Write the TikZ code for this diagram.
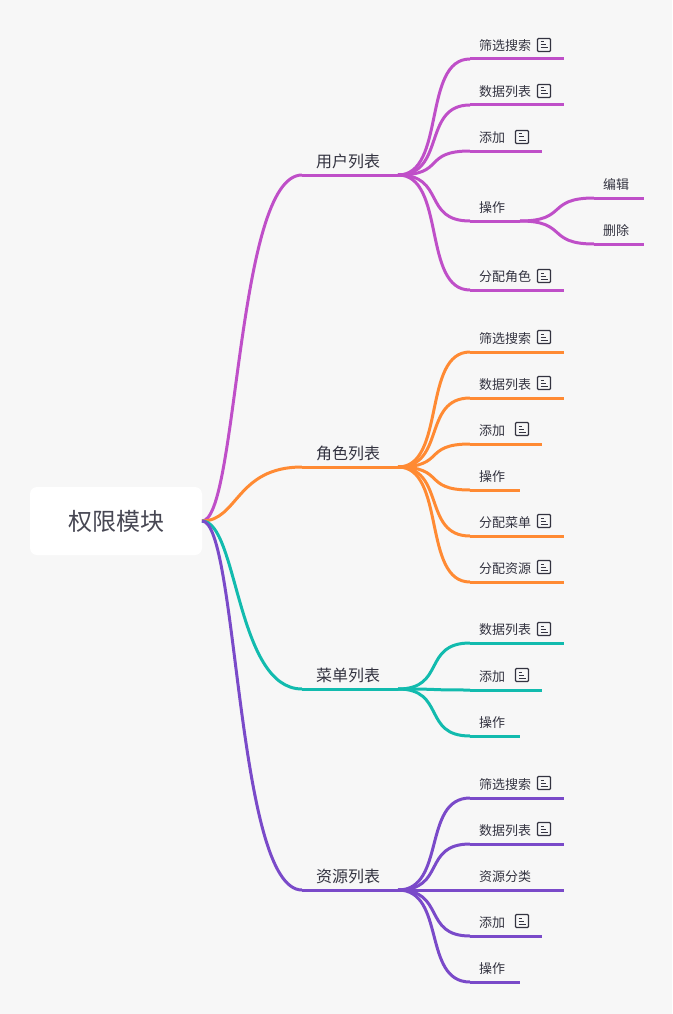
\documentclass[tikz,border=0pt]{standalone}
\usepackage{fontspec}
\setmainfont{Noto Sans CJK SC}
\definecolor{pagebg}{HTML}{F7F7F7}
\definecolor{inkc}{HTML}{333340}
\definecolor{userc}{HTML}{BF4FC8}
\definecolor{rolec}{HTML}{FF8A33}
\definecolor{menuc}{HTML}{12BBAE}
\definecolor{resc}{HTML}{7A4AC9}
\tikzset{
	rootbox/.style={fill=white,outer sep=0pt,rounded corners=7pt,minimum width=172pt,minimum height=68pt,text=inkc!90,font=\fontsize{24}{28}\selectfont},
	topic/.style={anchor=south west,outer sep=0pt,inner xsep=14pt,inner ysep=0pt,minimum height=27pt,text width=68pt,align=left,text=inkc,font=\fontsize{16}{18}\selectfont},
	leaf/.style={anchor=south west,outer sep=0pt,inner xsep=9pt,inner ysep=0pt,minimum height=27.5pt,text width=#1pt-18pt,align=left,text=inkc,font=\fontsize{13}{15}\selectfont},
	branch/.style={out=0,in=180,distance=48pt},
	bigbranch/.style={out=0,in=180,out distance=36pt,in distance=66pt},
	noteicon/.pic={
		\draw[inkc,line width=1.2pt,rounded corners=1pt] (-6.5,-6.5) rectangle (6.5,6.5);
		\draw[inkc,line width=1pt] (-3.5,-3) -- (0,-3) (-3.5,0) -- (2,0) (-3.5,3) -- (4,3);
	}
}
\begin{document}
\begin{tikzpicture}[x=1pt,y=-1pt,line width=3pt]
\useasboundingbox[fill=pagebg] (0,0) rectangle (672,1014);

\node[rootbox](R) at (116,521) {权限模块};

% user list
\node[topic](U) at (302,175) {用户列表};
\node[leaf=94](UA) at (470,59) {筛选搜索};
\node[leaf=94](UB) at (470,105) {数据列表};
\node[leaf=72](UC) at (470,151) {添加};
\node[leaf=50](UD) at (470,221) {操作};
\node[leaf=50](UDA) at (594,198) {编辑};
\node[leaf=50](UDB) at (594,244) {删除};
\node[leaf=94](UE) at (470,290) {分配角色};

% role list
\node[topic](J) at (302,467) {角色列表};
\node[leaf=94](JA) at (470,352) {筛选搜索};
\node[leaf=94](JB) at (470,398) {数据列表};
\node[leaf=72](JC) at (470,444) {添加};
\node[leaf=50](JD) at (470,490) {操作};
\node[leaf=94](JE) at (470,536) {分配菜单};
\node[leaf=94](JF) at (470,582) {分配资源};

% menu list
\node[topic](M) at (302,689) {菜单列表};
\node[leaf=94](MA) at (470,643) {数据列表};
\node[leaf=72](MB) at (470,690) {添加};
\node[leaf=50](MC) at (470,736) {操作};

% resource list
\node[topic](Z) at (302,890) {资源列表};
\node[leaf=94](ZA) at (470,798) {筛选搜索};
\node[leaf=94](ZB) at (470,844) {数据列表};
\node[leaf=94](ZC) at (470,890) {资源分类};
\node[leaf=72](ZD) at (470,936) {添加};
\node[leaf=50](ZE) at (470,982) {操作};

\path[userc]
(R.east) edge[bigbranch] (U.south west)
(U.south west) edge (U.south east)
(U.south east) edge[branch] (UA.south west)
(UA.south west) edge (UA.south east)
(U.south east) edge[branch] (UB.south west)
(UB.south west) edge (UB.south east)
(U.south east) edge[branch] (UC.south west)
(UC.south west) edge (UC.south east)
(U.south east) edge[branch] (UD.south west)
(UD.south west) edge (UD.south east)
(UD.south east) edge[branch] (UDA.south west)
(UDA.south west) edge (UDA.south east)
(UD.south east) edge[branch] (UDB.south west)
(UDB.south west) edge (UDB.south east)
(U.south east) edge[branch] (UE.south west)
(UE.south west) edge (UE.south east)
;
\path[rolec]
(R.east) edge[bigbranch] (J.south west)
(J.south west) edge (J.south east)
(J.south east) edge[branch] (JA.south west)
(JA.south west) edge (JA.south east)
(J.south east) edge[branch] (JB.south west)
(JB.south west) edge (JB.south east)
(J.south east) edge[branch] (JC.south west)
(JC.south west) edge (JC.south east)
(J.south east) edge[branch] (JD.south west)
(JD.south west) edge (JD.south east)
(J.south east) edge[branch] (JE.south west)
(JE.south west) edge (JE.south east)
(J.south east) edge[branch] (JF.south west)
(JF.south west) edge (JF.south east)
;
\path[menuc]
(R.east) edge[bigbranch] (M.south west)
(M.south west) edge (M.south east)
(M.south east) edge[branch] (MA.south west)
(MA.south west) edge (MA.south east)
(M.south east) edge[branch] (MB.south west)
(MB.south west) edge (MB.south east)
(M.south east) edge[branch] (MC.south west)
(MC.south west) edge (MC.south east)
;
\path[resc]
(R.east) edge[bigbranch] (Z.south west)
(Z.south west) edge (Z.south east)
(Z.south east) edge[branch] (ZA.south west)
(ZA.south west) edge (ZA.south east)
(Z.south east) edge[branch] (ZB.south west)
(ZB.south west) edge (ZB.south east)
(Z.south east) edge[branch] (ZC.south west)
(ZC.south west) edge (ZC.south east)
(Z.south east) edge[branch] (ZD.south west)
(ZD.south west) edge (ZD.south east)
(Z.south east) edge[branch] (ZE.south west)
(ZE.south west) edge (ZE.south east)
;

\pic at (544,45) {noteicon};
\pic at (544,91) {noteicon};
\pic at (522,137) {noteicon};
\pic at (544,276) {noteicon};
\pic at (544,337) {noteicon};
\pic at (544,383) {noteicon};
\pic at (522,429) {noteicon};
\pic at (544,521) {noteicon};
\pic at (544,567) {noteicon};
\pic at (544,629) {noteicon};
\pic at (522,675) {noteicon};
\pic at (544,783) {noteicon};
\pic at (544,829) {noteicon};
\pic at (522,921) {noteicon};
\end{tikzpicture}
\end{document}
